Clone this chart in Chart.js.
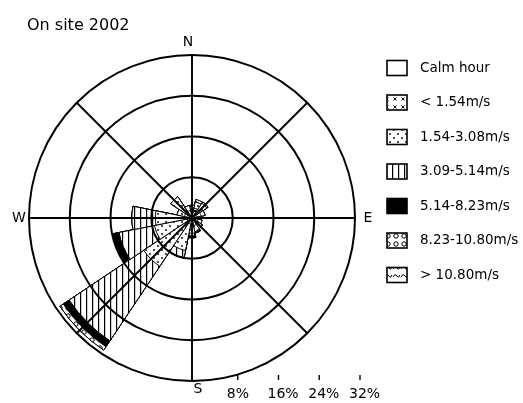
<!DOCTYPE html>
<html>
<head>
<meta charset="utf-8">
<script src="https://cdn.jsdelivr.net/npm/chart.js@4"></script>
<style>
  html, body { margin: 0; padding: 0; background: #fff; }
  #wrap { position: relative; width: 523px; height: 403px; }
</style>
</head>
<body>
<div id="wrap"><canvas id="rose"></canvas></div>
<script>
// 16 wind directions, clockwise from north
const directions = ['N', 'NNE', 'NE', 'ENE', 'E', 'ESE', 'SE', 'SSE', 'S', 'SSW', 'SW', 'WSW', 'W', 'WNW', 'NW', 'NNW'];

// frequency (%) of each speed class per direction
const below154 = [1.5, 2.0, 2.0, 1.8, 1.2, 1.2, 1.5, 1.5, 1.5, 1.2, 1.0, 1.0, 1.0, 1.5, 2.5, 1.5];
const from154 = [1.0, 1.2, 1.5, 0.8, 0.6, 0.8, 1.0, 1.2, 1.5, 5.3, 10.4, 6.5, 6.2, 1.5, 2.5, 1.0];
const from309 = [0, 0, 0, 0, 0, 0, 0, 0, 0.5, 1.5, 17.6, 7.1, 4.6, 0, 0, 0];
const from514 = [0, 0, 0, 0, 0, 0, 0, 0.3, 0.4, 0, 1.4, 1.2, 0, 0, 0, 0];
const from823 = [0, 0.5, 0.3, 0, 0, 0, 0, 0, 0, 0, 0.8, 0, 0, 0, 0, 0];
const above1080 = [0, 0, 0, 0, 0, 0, 0, 0, 0, 0, 0, 0, 0, 0, 0, 0];

const speedLabels = ['< 1.54m/s', '1.54-3.08m/s', '3.09-5.14m/s', '5.14-8.23m/s', '8.23-10.80m/s', '> 10.80m/s'];
const ringTicks = [8, 16, 24, 32];
const ringLabels = ['8%', '16%', '24%', '32%'];

// fill patterns like the printed legend
function makePattern(kind) {
    const c = document.createElement('canvas');
    const g = c.getContext('2d');
    if (kind === 'solid') return '#000';
    c.width = c.height = (kind === 'lines') ? 6 : 8;
    g.fillStyle = '#fff';
    g.fillRect(0, 0, c.width, c.height);
    g.fillStyle = '#000';
    g.strokeStyle = '#000';
    g.lineWidth = 1;
    if (kind === 'cross') {
        g.beginPath();
        g.moveTo(1.5, 1.5); g.lineTo(4.5, 4.5);
        g.moveTo(4.5, 1.5); g.lineTo(1.5, 4.5);
        g.stroke();
    } else if (kind === 'dots') {
        g.beginPath(); g.arc(2, 2, 0.9, 0, Math.PI * 2); g.fill();
        g.beginPath(); g.arc(6, 6, 0.9, 0, Math.PI * 2); g.fill();
    } else if (kind === 'lines') {
        g.fillRect(2, 0, 1.2, 6);
    } else if (kind === 'rings') {
        g.beginPath(); g.arc(4, 4, 2.2, 0, Math.PI * 2); g.stroke();
    } else if (kind === 'squiggle') {
        g.beginPath();
        g.moveTo(1, 5); g.quadraticCurveTo(3, 1, 5, 4); g.quadraticCurveTo(7, 7, 7.5, 3);
        g.stroke();
    }
    return g.createPattern(c, 'repeat');
}

const fills = ['cross', 'dots', 'lines', 'solid', 'rings', 'squiggle'].map(makePattern);
const bands = [below154, from154, from309, from514, from823, above1080];

// polar area can't stack, so each class is drawn out to its running total;
// dataset 0 is painted last, so the inner classes cover the outer ones
const running = directions.map(() => 0);
const datasets = bands.map((band, k) => {
    band.forEach((v, i) => running[i] += v);
    return {
        label: speedLabels[k],
        data: running.slice(),
        backgroundColor: fills[k],
        borderColor: '#000',
        borderWidth: 1
    };
});

const roseDecor = {
    id: 'roseDecor',
    afterDraw(chart) {
        const ctx = chart.ctx;
        const r = chart.scales.r;
        const cx = r.xCenter, cy = r.yCenter, R = r.drawingArea;
        ctx.save();
        ctx.strokeStyle = '#000';
        ctx.fillStyle = '#000';

        // N-S, NE-SW, E-W, SE-NW lines
        ctx.lineWidth = 1.9;
        for (let k = 0; k < 4; k++) {
            const t = k * Math.PI / 4;
            ctx.beginPath();
            ctx.moveTo(cx + R * Math.sin(t), cy - R * Math.cos(t));
            ctx.lineTo(cx - R * Math.sin(t), cy + R * Math.cos(t));
            ctx.stroke();
        }

        ctx.font = '14px "DejaVu Sans"';
        ctx.textAlign = 'center';
        ctx.textBaseline = 'middle';
        ctx.fillText('N', cx - 4, cy - R - 13);
        ctx.fillText('S', cx + 6, cy + R + 8);
        ctx.fillText('W', cx - R - 10, cy);
        ctx.fillText('E', cx + R + 13, cy);

        // distance scale under the rose
        ctx.lineWidth = 1.4;
        ctx.textAlign = 'left';
        ringTicks.forEach((v, i) => {
            const x = cx + r.getDistanceFromCenterForValue(v) + 5;
            ctx.beginPath();
            ctx.moveTo(x, cy + R - 6);
            ctx.lineTo(x, cy + R - 1);
            ctx.stroke();
            ctx.fillText(ringLabels[i], x - 11, cy + R + 13);
        });

        // legend
        const boxX = 387, textX = 420;
        let y = 68;
        const items = [{ text: 'Calm hour', fill: '#fff' }].concat(
            speedLabels.map((t, k) => ({ text: t, fill: fills[k] })));
        ctx.font = '13.5px "DejaVu Sans"';
        ctx.lineWidth = 1.6;
        items.forEach(item => {
            ctx.fillStyle = item.fill;
            ctx.fillRect(boxX, y - 7.5, 20, 15);
            ctx.strokeRect(boxX, y - 7.5, 20, 15);
            ctx.fillStyle = '#000';
            ctx.fillText(item.text, textX, y);
            y += 34.5;
        });
        ctx.restore();
    }
};

new Chart(document.getElementById('rose'), {
    type: 'polarArea',
    data: { labels: directions, datasets: datasets },
    options: {
        responsive: true,
        maintainAspectRatio: false,
        animation: false,
        events: [],
        layout: { padding: { left: 27, right: 166, top: 0, bottom: 22 } },
        scales: {
            r: {
                min: 0,
                max: 32,
                startAngle: -11.25,
                ticks: { display: false, stepSize: 8 },
                grid: { color: '#000', lineWidth: 2, z: 1 },
                angleLines: { display: false },
                pointLabels: { display: false }
            }
        },
        plugins: {
            legend: { display: false },
            tooltip: { enabled: false },
            title: {
                display: true,
                text: 'On site 2002',
                align: 'start',
                color: '#000',
                font: { family: 'DejaVu Sans', size: 16, weight: 'normal' },
                padding: { top: 16.5, bottom: 19.3 }
            }
        }
    },
    plugins: [roseDecor]
});
</script>
</body>
</html>
